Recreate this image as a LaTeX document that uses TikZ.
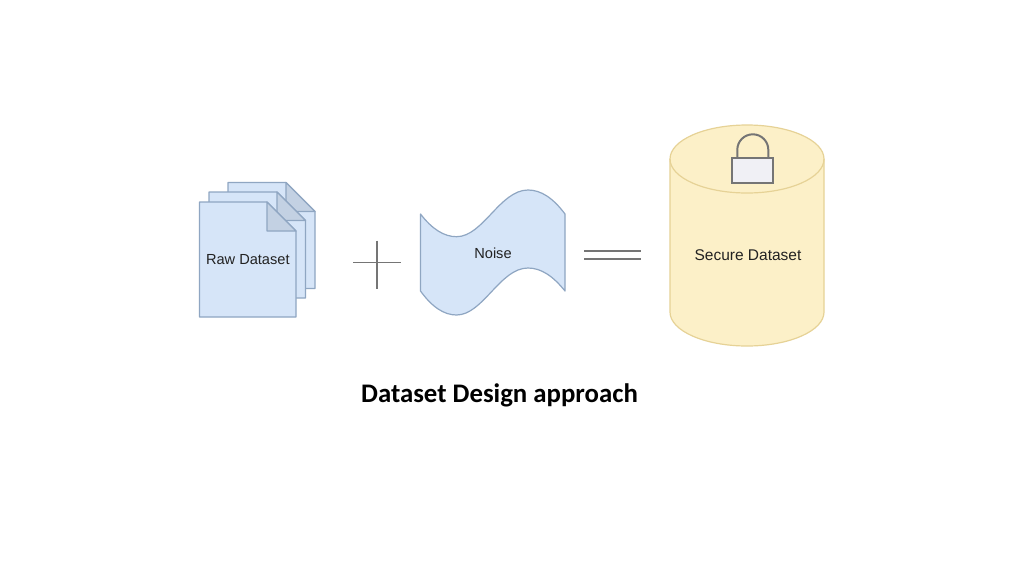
\documentclass[tikz,border=0pt]{standalone}
\usepackage{fontspec}
\setmainfont{Liberation Sans}
\newfontfamily\titlefont{Carlito}
\definecolor{bluefill}{HTML}{D6E5F8}
\definecolor{foldfill}{HTML}{C3D1E3}
\definecolor{blueline}{HTML}{8FA6C2}
\definecolor{yellowfill}{HTML}{FCF0C8}
\definecolor{yellowline}{HTML}{E6D296}
\definecolor{symline}{HTML}{757575}
\definecolor{lockfill}{HTML}{F0F0F5}
\definecolor{labeltext}{HTML}{222222}
\tikzset{
  page/.style={draw=blueline,fill=bluefill,line width=1.2pt,line join=round},
  pagefold/.style={draw=blueline,fill=foldfill,line width=1.2pt,line join=round},
  symbol/.style={draw=symline,line width=1.7pt},
  label/.style={text=labeltext,inner sep=0pt,font=\fontsize{14.6}{17}\selectfont},
}
\newcommand{\docpage}[5]{% left top right bottom foldx
  \pgfmathsetmacro{\fy}{#2+#3-#5}
  \path[page] (#1,#2) -- (#5,#2) -- (#3,\fy) -- (#3,#4) -- (#1,#4) -- cycle;
  \path[pagefold] (#5,#2) -- (#3,\fy) -- (#5,\fy) -- cycle;
}
\begin{document}
\begin{tikzpicture}[x=1pt,y=-1pt]
\useasboundingbox[fill=white] (0,0) rectangle (1024,576);
% documents
\docpage{228}{182.5}{315}{288.5}{286}
\docpage{209}{192}{305.5}{298}{277}
\docpage{199.5}{202}{296}{317}{267}
\node[label] (raw) at (247.8,259.7) {Raw Dataset};
% plus
\coordinate (pl) at (353,262.5); \coordinate (pr) at (401,262.5);
\coordinate (pt) at (377,240.5); \coordinate (pb) at (377,288.5);
\draw[symbol] (pl) -- (pr);
\draw[symbol] (pt) -- (pb);
% noise
\path[draw=blueline,fill=bluefill,line width=1.2pt,line join=round]
  (420.5,214) .. controls (432,229) and (444,236.7) .. (456.5,236.7)
  .. controls (483,236.7) and (500,190) .. (528,190)
  .. controls (541,190) and (553,198) .. (565,214)
  -- (565,291)
  .. controls (553,276) and (541,268) .. (528,268)
  .. controls (500,268) and (483,315) .. (456.5,315)
  .. controls (444,315) and (432,307) .. (420.5,291)
  -- cycle;
\node[label] (noise) at (493,253.5) {Noise};
% equals
\coordinate (e1l) at (584,251.3); \coordinate (e1r) at (641,251.3);
\coordinate (e2l) at (584,259); \coordinate (e2r) at (641,259);
\draw[symbol] (e1l) -- (e1r);
\draw[symbol] (e2l) -- (e2r);
% cylinder
\path[draw=yellowline,fill=yellowfill,line width=1.2pt]
  (670,159) arc[start angle=180,end angle=0,x radius=77,y radius=-34]
  -- (824,312) arc[start angle=0,end angle=-180,x radius=77,y radius=-34] -- cycle;
\path[draw=yellowline,line width=1.2pt] (670,159) arc[start angle=180,end angle=360,x radius=77,y radius=-34];
% lock
\draw[draw=symline,line width=2pt] (737.3,158.3) -- (737.3,149.8)
  arc[start angle=180,end angle=0,x radius=15.5,y radius=-15.5] -- (768.3,158.3);
\path[draw=symline,fill=lockfill,line width=2pt] (732.3,158.3) rectangle (772.7,183.3);
\node[label,font=\fontsize{15.5}{18}\selectfont] (secure) at (748,255.5) {Secure Dataset};
% title
\node[inner sep=0pt,text=black] (title) at (499.5,395.5) {\titlefont\bfseries\fontsize{26.8}{32}\selectfont Dataset Design approach};
\end{tikzpicture}
\end{document}
